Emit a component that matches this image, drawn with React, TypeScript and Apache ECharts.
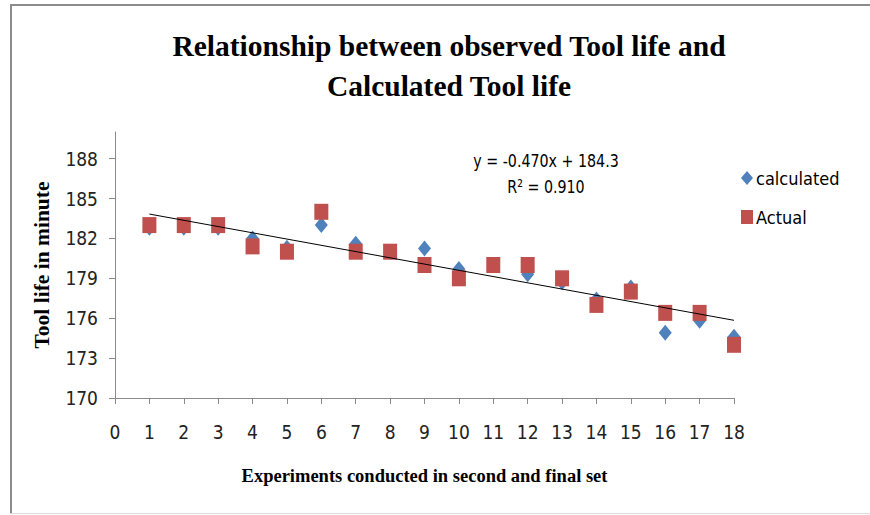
import React, { useEffect, useRef } from "react";
import * as echarts from "echarts";

const experiments = [1, 2, 3, 4, 5, 6, 7, 8, 9, 10, 11, 12, 13, 14, 15, 16, 17, 18];
const calculated = [182.8, 182.8, 182.8, 182.0, 181.3, 183.0, 181.6, 181.0, 181.25, 179.7, 180.0, 179.3, 178.7, 177.4, 178.3, 174.9, 175.8, 174.6];
const actual = [183, 183, 183, 181.4, 181, 184, 181, 181, 180, 179, 180, 180, 179, 177, 178, 176.4, 176.4, 174];
const trendX = [1, 18];
const trendY = [183.83, 175.84];
const yTicks = [170, 173, 176, 179, 182, 185, 188];
const titleLines = ["Relationship between observed Tool life and", "Calculated Tool life"];
const equationText = "y = -0.470x + 184.3";
const r2Text = "R² = 0.910";

const sansNarrow = "'Liberation Sans Narrow', 'DejaVu Sans Condensed', 'Liberation Sans', sans-serif";
const serif = "'Liberation Serif', 'DejaVu Serif', serif";

export default function App() {
  const ref = useRef<HTMLDivElement>(null);
  useEffect(() => {
    if (!ref.current) return;
    const chart = echarts.init(ref.current, null, { renderer: "svg" });
    const axisColor = "#8a8a8a";
    chart.setOption({
      animation: false,
      backgroundColor: "#ffffff",
      title: {
        text: titleLines.join("\n"),
        left: 444,
        top: 21,
        textAlign: "center",
        textStyle: {
          fontFamily: serif,
          fontWeight: "bold",
          fontSize: 29.5,
          lineHeight: 40,
          color: "#000",
        },
      },
      legend: {
        orient: "vertical",
        left: 741,
        top: 169,
        padding: 0,
        itemGap: 21,
        itemWidth: 12,
        itemHeight: 14,
        textStyle: { fontFamily: sansNarrow, fontSize: 18, color: "#000", padding: [0, 0, 0, -2] },
        data: [
          { name: "calculated", icon: "diamond", itemStyle: { color: "#4f81bd", opacity: 1 } },
          { name: "Actual", icon: "rect", itemStyle: { color: "#c0504d", opacity: 1 } },
        ],
      },
      grid: { left: 115, top: 132, right: 136, bottom: 117 },
      xAxis: {
        type: "value",
        min: 0,
        max: 18,
        interval: 1,
        name: "Experiments conducted in second and final set",
        nameLocation: "middle",
        nameGap: 68,
        nameTextStyle: { fontFamily: serif, fontWeight: "bold", fontSize: 18.5, color: "#000" },
        axisLine: { show: true, lineStyle: { color: axisColor, width: 1 } },
        axisTick: { show: true, length: 6, lineStyle: { color: axisColor } },
        axisLabel: { fontFamily: sansNarrow, fontSize: 19, color: "#222", margin: 24 },
        splitLine: { show: false },
      },
      yAxis: {
        type: "value",
        min: 170,
        max: 190,
        name: "Tool life in minute",
        nameLocation: "middle",
        nameGap: 62,
        nameTextStyle: { fontFamily: serif, fontWeight: "bold", fontSize: 21.5, color: "#000" },
        axisLine: { show: true, lineStyle: { color: axisColor, width: 1 } },
        axisTick: { show: true, length: 6, customValues: yTicks, lineStyle: { color: axisColor } },
        axisLabel: { fontFamily: sansNarrow, fontSize: 19, color: "#222", margin: 17, customValues: yTicks },
        splitLine: { show: false },
      },
      graphic: [
        { type: "line", shape: { x1: 11, y1: 5, x2: 11, y2: 513 }, style: { stroke: "#8c8c8c", lineWidth: 2 } },
        { type: "line", shape: { x1: 10, y1: 5, x2: 870, y2: 5 }, style: { stroke: "#8c8c8c", lineWidth: 2 } },
        { type: "line", shape: { x1: 10, y1: 513.5, x2: 870, y2: 513.5 }, style: { stroke: "#dcdcdc", lineWidth: 1 } },
        {
          type: "text",
          x: 546,
          y: 161,
          scaleX: 0.88,
          style: { text: equationText, fontFamily: sansNarrow, fontSize: 18, fill: "#000", textAlign: "center", textVerticalAlign: "middle" },
        },
        {
          type: "text",
          x: 546,
          y: 187,
          scaleX: 0.88,
          style: { text: r2Text, fontFamily: sansNarrow, fontSize: 18, fill: "#000", textAlign: "center", textVerticalAlign: "middle" },
        },
      ],
      series: [
        {
          name: "trend",
          type: "line",
          data: trendX.map((x, i) => [x, trendY[i]]),
          symbol: "none",
          lineStyle: { color: "#000", width: 1 },
          silent: true,
          z: 3,
        },
        {
          name: "calculated",
          type: "scatter",
          data: experiments.map((x, i) => [x, calculated[i]]),
          symbol: "diamond",
          symbolSize: [13, 16],
          itemStyle: { color: "#4f81bd", opacity: 1 },
          z: 2,
        },
        {
          name: "Actual",
          type: "scatter",
          data: experiments.map((x, i) => [x, actual[i]]),
          symbol: "rect",
          symbolSize: [14, 16],
          itemStyle: { color: "#c0504d", opacity: 1 },
          z: 2,
        },
      ],
    });
    return () => chart.dispose();
  }, []);
  return (
    <div
      ref={ref}
      style={{ position: "fixed", left: 0, top: 0, width: 870, height: 515, background: "#fff" }}
    />
  );
}
